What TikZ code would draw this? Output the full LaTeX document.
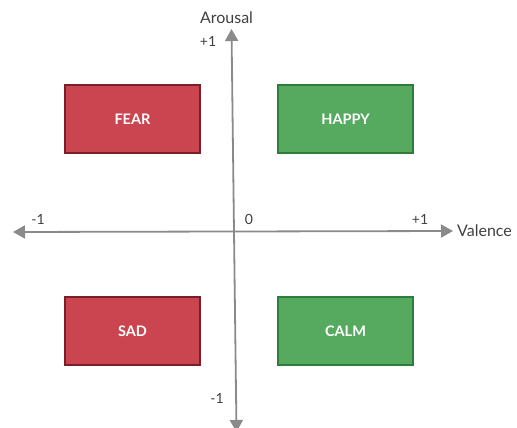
\documentclass[tikz,border=0pt]{standalone}
\usepackage{fontspec}
\setmainfont{Lato}
\usetikzlibrary{arrows.meta}
\definecolor{axisgray}{HTML}{8A8A8A}
\definecolor{txtgray}{HTML}{3F3F3F}
\definecolor{redfill}{HTML}{CB4550}
\definecolor{redline}{HTML}{7A1F28}
\definecolor{greenfill}{HTML}{55AA60}
\definecolor{greenline}{HTML}{2F7D3B}
\tikzset{
  emobox/.style={rectangle, minimum width=135pt, minimum height=68pt, line width=1.2pt,
    text=white, font=\fontsize{14.5}{16}\selectfont\bfseries, inner sep=0pt},
  negbox/.style={emobox, fill=redfill, draw=redline},
  posbox/.style={emobox, fill=greenfill, draw=greenline},
  axisline/.style={draw=axisgray, line width=1.8pt, -{Triangle[length=12pt,width=13pt]}},
  axlabel/.style={text=txtgray, font=\fontsize{16}{18}\selectfont, inner sep=0pt},
  ticklabel/.style={text=txtgray, font=\fontsize{14}{16}\selectfont, inner sep=0pt}
}
\begin{document}
\begin{tikzpicture}[x=1pt,y=-1pt]
\useasboundingbox (0,0) rectangle (517,428);
\node[negbox] (fear) at (132.5,119) {FEAR};
\node[posbox] (happy) at (345.5,119) {HAPPY};
\node[negbox] (sad) at (132.5,331) {SAD};
\node[posbox] (calm) at (345.5,331) {CALM};
\coordinate (vbot) at (236.5,432);
\coordinate (vtop) at (231.5,29);
\coordinate (vmid) at (234,231.5);
\coordinate (hmid) at (233,231.5);
\coordinate (hleft) at (13,232);
\coordinate (hright) at (453,231);
\draw[axisline] (hmid) -- (hleft);
\draw[axisline] (hmid) -- (hright);
\draw[axisline] (vmid) -- (vtop);
\draw[axisline] (vmid) -- (vbot);
\node[axlabel] (arousal) at (226.5,18) {Arousal};
\node[ticklabel] (ptop) at (208,41) {+1};
\node[ticklabel] (mleft) at (38,219) {-1};
\node[ticklabel] (zero) at (249,219) {0};
\node[ticklabel] (pright) at (420,219) {+1};
\node[axlabel, anchor=west] (valence) at (457,231) {Valence};
\node[ticklabel] (mbot) at (217,398) {-1};
\end{tikzpicture}
\end{document}
